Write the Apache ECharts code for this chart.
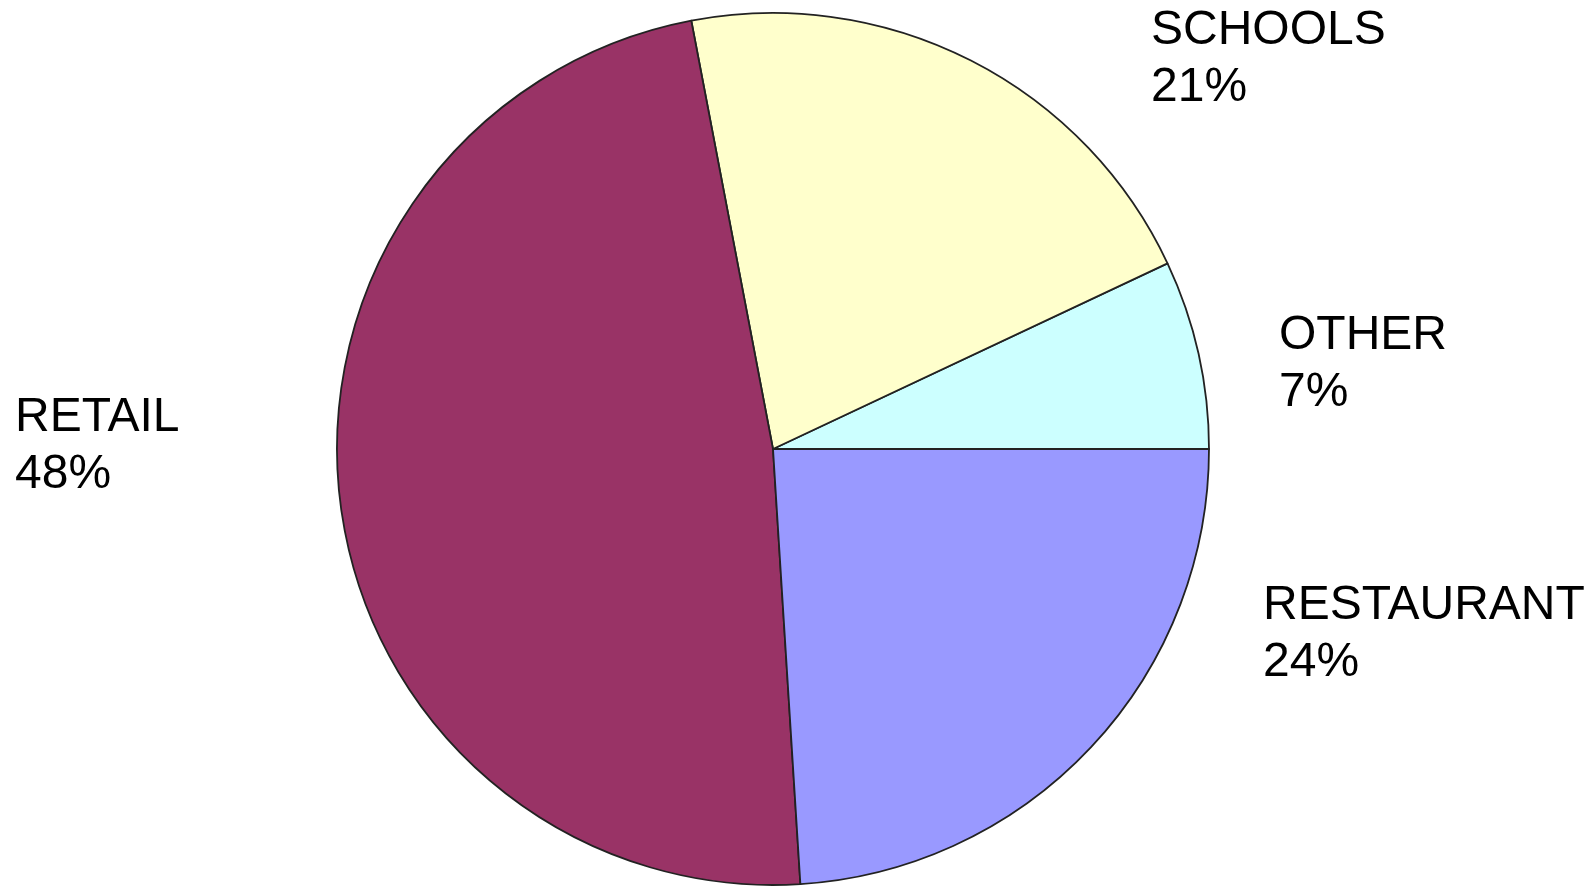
<!DOCTYPE html>
<html>
<head>
<meta charset="utf-8">
<title>Share by category</title>
<script src="https://cdn.jsdelivr.net/npm/echarts@6/dist/echarts.min.js"></script>
<style>
  html, body { margin: 0; padding: 0; background: #ffffff; }
  #chart { width: 1596px; height: 889px; }
</style>
</head>
<body>
<div id="chart"></div>
<script>
// Slices, listed counter-clockwise from 3 o'clock
const categories = ['OTHER', 'SCHOOLS', 'RETAIL', 'RESTAURANT'];
const shares = [7, 21, 48, 24];
const sliceColors = ['#CCFFFF', '#FFFFCC', '#993366', '#9999FF'];

// Top-left anchor of each two-line label block (pixels)
const labelAnchors = [
  [1279, 307],
  [1151, 2],
  [15, 389],
  [1263, 577]
];

const chart = echarts.init(document.getElementById('chart'), null, { renderer: 'canvas' });

chart.setOption({
  backgroundColor: '#ffffff',
  animation: false,
  series: [{
    type: 'pie',
    center: [773, 449],
    radius: 436,
    startAngle: 0,
    clockwise: false,
    avoidLabelOverlap: false,
    itemStyle: { borderColor: '#222222', borderWidth: 1.8 },
    emphasis: { disabled: true },
    label: {
      show: true,
      position: 'outside',
      color: '#000000',
      fontFamily: '"Liberation Sans", Arial, sans-serif',
      fontSize: 48,
      lineHeight: 57,
      overflow: 'none',
      formatter: p => p.name + '\n' + shares[p.dataIndex] + '%'
    },
    labelLine: { show: false },
    labelLayout: p => ({
      x: labelAnchors[p.dataIndex][0],
      y: labelAnchors[p.dataIndex][1],
      align: 'left',
      verticalAlign: 'top'
    }),
    data: categories.map((name, i) => ({
      name: name,
      value: shares[i],
      itemStyle: { color: sliceColors[i] }
    }))
  }]
});
</script>
</body>
</html>
